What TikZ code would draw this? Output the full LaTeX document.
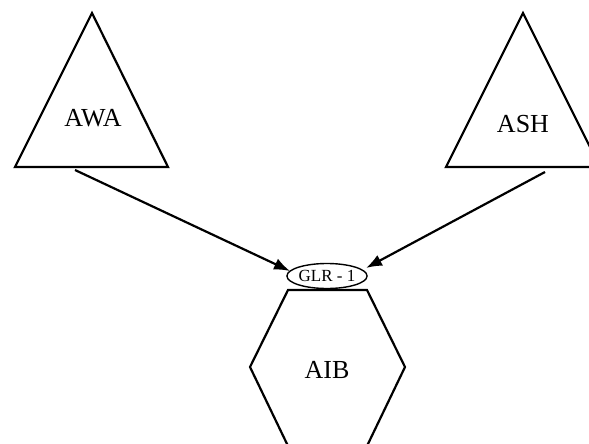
\documentclass[tikz,border=0pt]{standalone}
\usepackage{fontspec}
\setmainfont{Liberation Serif}
\usetikzlibrary{arrows.meta,shapes.geometric}
\begin{document}
\begin{tikzpicture}[x=1pt,y=-1pt,
  shape line/.style={draw=black,line width=2.2pt,line join=miter},
  label text/.style={font=\fontsize{26}{26}\selectfont,inner sep=0pt},
  link/.style={line width=2.2pt,-{Latex[length=16pt,width=12pt]}}]
  \useasboundingbox (0,0) rectangle (589,444);
  \clip (0,0) rectangle (589,444);
  % left triangle
  \draw[shape line] (92,13) -- (168,167) -- (15,167) -- cycle;
  \node[label text] (awa) at (93,118) {AWA};
  % right triangle
  \draw[shape line] (523,13) -- (600,167) -- (446,167) -- cycle;
  \node[label text] (ash) at (523,124) {ASH};
  % hexagon
  \draw[shape line] (288,290) -- (367,290) -- (405,367) -- (367,446) -- (288,446) -- (250,367) -- cycle;
  \node[label text] (aib) at (327,370) {AIB};
  % receptor ellipse
  \node[draw,ellipse,line width=1.4pt,minimum width=73pt,minimum height=25pt,inner sep=0pt,
        font=\fontsize{17}{17}\selectfont] (glr) at (327,276) {GLR - 1};
  % arrow end points
  \coordinate (s1) at (75,170);
  \coordinate (t1) at (290,271);
  \coordinate (s2) at (545,172);
  \coordinate (t2) at (366,268);
  \draw[link] (s1) -- (t1);
  \draw[link] (s2) -- (t2);
\end{tikzpicture}
\end{document}
